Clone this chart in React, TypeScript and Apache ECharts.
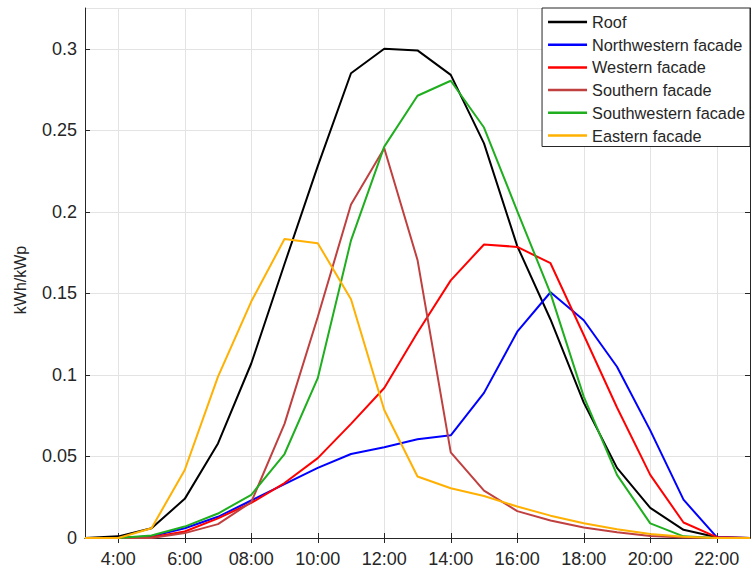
import React, { useEffect, useRef } from "react";
import * as echarts from "echarts";

const categories = [
  "3:00", "4:00", "5:00", "6:00", "7:00", "08:00", "09:00", "10:00", "11:00", "12:00",
  "13:00", "14:00", "15:00", "16:00", "17:00", "18:00", "19:00", "20:00", "21:00", "22:00", "23:00",
];

const roof = [0, 0.001, 0.006, 0.024, 0.058, 0.107, 0.168, 0.228, 0.285, 0.300, 0.299, 0.284, 0.242, 0.179, 0.134, 0.083, 0.043, 0.0185, 0.005, 0.0005, 0];
const northwestern = [0, 0, 0.001, 0.006, 0.013, 0.023, 0.033, 0.043, 0.0515, 0.0556, 0.0605, 0.063, 0.089, 0.1265, 0.1507, 0.1335, 0.105, 0.066, 0.0235, 0.0005, 0];
const western = [0, 0, 0.0005, 0.004, 0.012, 0.0215, 0.0337, 0.049, 0.07, 0.092, 0.126, 0.158, 0.180, 0.1785, 0.1685, 0.1245, 0.080, 0.0387, 0.0095, 0.0005, 0];
const southern = [0, 0, 0, 0.003, 0.0085, 0.022, 0.070, 0.1355, 0.2045, 0.239, 0.1705, 0.0525, 0.029, 0.0165, 0.0107, 0.0065, 0.0035, 0.0012, 0.0003, 0, 0];
const southwestern = [0, 0, 0.0015, 0.007, 0.015, 0.0265, 0.0515, 0.098, 0.1825, 0.240, 0.2712, 0.2804, 0.2517, 0.2005, 0.150, 0.0867, 0.0387, 0.009, 0.001, 0, 0];
const eastern = [0, 0, 0.006, 0.0417, 0.099, 0.145, 0.1833, 0.1808, 0.1464, 0.0785, 0.0377, 0.0305, 0.0258, 0.0193, 0.0137, 0.009, 0.0053, 0.0025, 0.0008, 0, 0];

const seriesNames = ["Roof", "Northwestern facade", "Western facade", "Southern facade", "Southwestern facade", "Eastern facade"];
const seriesValues = [roof, northwestern, western, southern, southwestern, eastern];
const seriesColors = ["#000000", "#0000FF", "#FF0000", "#C04040", "#1EAE1E", "#FFB000"];

const FONT = "'Liberation Sans', Arial, Helvetica, sans-serif";
const AXIS_COLOR = "#262626";
const GRID_COLOR = "#e3e3e3";

export default function App() {
  const ref = useRef<HTMLDivElement>(null);
  useEffect(() => {
    document.body.style.margin = "0";
    if (!ref.current) return;
    const chart = echarts.init(ref.current, undefined, { renderer: "svg" });
    const evenOnly = (i: number) => i % 2 === 1;
    const option: any = {
      animation: false,
      backgroundColor: "#ffffff",
      grid: { left: 85, top: 8, right: 3, bottom: 36, containLabel: false },
      legend: {
        orient: "vertical",
        right: 3,
        top: 8,
        padding: [4, 5, 1, 6],
        itemGap: 2.7,
        itemWidth: 39,
        itemHeight: 2.5,
        icon: "rect",
        backgroundColor: "#ffffff",
        borderColor: AXIS_COLOR,
        borderWidth: 1,
        borderRadius: 0,
        textStyle: { fontFamily: FONT, fontSize: 16.3, color: AXIS_COLOR, lineHeight: 20 },
        data: seriesNames,
      },
      xAxis: [
        {
          type: "category",
          data: categories,
          boundaryGap: false,
          axisLine: { lineStyle: { color: AXIS_COLOR, width: 1 } },
          axisTick: { inside: true, length: 5, interval: evenOnly, lineStyle: { color: AXIS_COLOR } },
          axisLabel: { interval: evenOnly, fontFamily: FONT, fontSize: 18, color: AXIS_COLOR, margin: 12 },
          splitLine: { show: true, interval: evenOnly, lineStyle: { color: GRID_COLOR, width: 1 } },
        },
        {
          type: "category",
          data: categories,
          position: "top",
          boundaryGap: false,
          axisLine: { lineStyle: { color: AXIS_COLOR, width: 1 } },
          axisTick: { inside: true, length: 5, interval: evenOnly, lineStyle: { color: AXIS_COLOR } },
          axisLabel: { show: false },
          splitLine: { show: false },
        },
      ],
      yAxis: [
        {
          type: "value",
          min: 0,
          max: 0.325,
          interval: 0.05,
          name: "kWh/kWp",
          nameLocation: "middle",
          nameGap: 57,
          nameRotate: 90,
          nameTextStyle: { fontFamily: FONT, fontSize: 16, color: AXIS_COLOR, padding: [0, 0, 0, -14] },
          axisLine: { show: true, lineStyle: { color: AXIS_COLOR, width: 1 } },
          axisTick: { show: true, inside: true, length: 5, lineStyle: { color: AXIS_COLOR } },
          axisLabel: {
            fontFamily: FONT,
            fontSize: 18,
            color: AXIS_COLOR,
            margin: 8,
            showMaxLabel: false,
            formatter: (v: number) => String(+v.toFixed(3)),
          },
          splitLine: { show: true, lineStyle: { color: GRID_COLOR, width: 1 } },
        },
        {
          type: "value",
          min: 0,
          max: 0.325,
          interval: 0.05,
          position: "right",
          axisLine: { show: true, lineStyle: { color: AXIS_COLOR, width: 1 } },
          axisTick: { show: true, inside: true, length: 5, lineStyle: { color: AXIS_COLOR } },
          axisLabel: { show: false },
          splitLine: { show: false },
        },
      ],
      series: seriesNames.map((name, i) => ({
        name,
        type: "line",
        data: seriesValues[i],
        xAxisIndex: 0,
        yAxisIndex: 0,
        showSymbol: false,
        symbol: "none",
        lineStyle: { color: seriesColors[i], width: 2 },
        itemStyle: { color: seriesColors[i] },
        emphasis: { disabled: true },
        z: 2 + i,
      })),
    };
    chart.setOption(option);
    return () => chart.dispose();
  }, []);
  return <div ref={ref} style={{ width: 753, height: 574 }} />;
}
